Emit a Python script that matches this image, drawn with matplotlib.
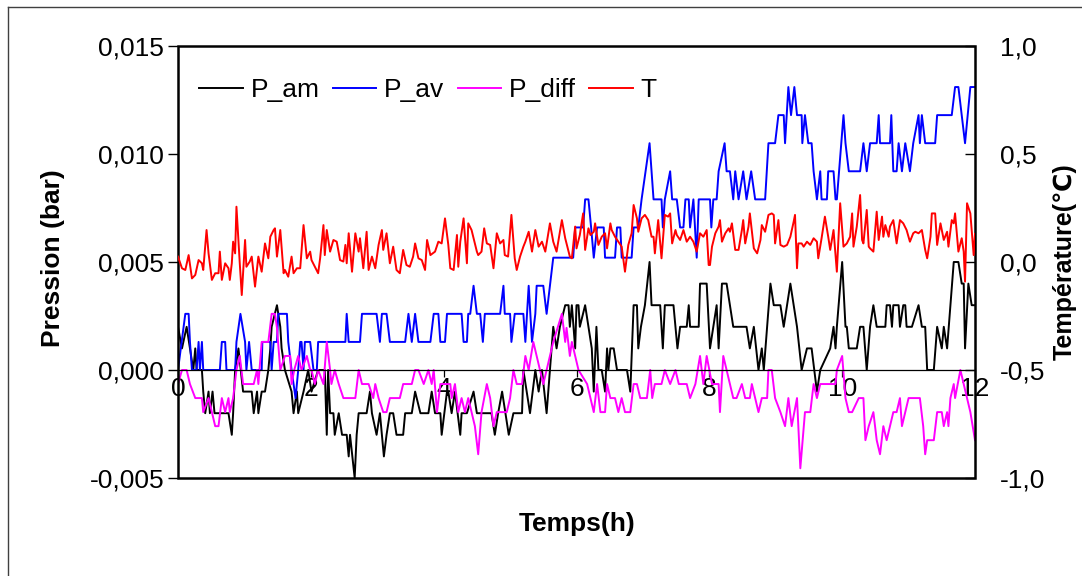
import numpy as np
import matplotlib
matplotlib.use("Agg")
import matplotlib.pyplot as plt
from matplotlib.patches import Rectangle
from matplotlib.lines import Line2D
from matplotlib.ticker import FuncFormatter, MultipleLocator

t_am = [0.0, 0.06, 0.13, 0.18, 0.23, 0.26, 0.28, 0.36, 0.38, 0.41,
        0.46, 0.48, 0.52, 0.55, 0.76, 0.81, 0.83, 0.86, 0.91, 0.98,
        1.11, 1.14, 1.19, 1.21, 1.26, 1.31, 1.36, 1.39, 1.41, 1.49,
        1.54, 1.56, 1.61, 1.71, 1.74, 1.79, 1.81, 1.89, 1.96,
        2.01, 2.11, 2.21, 2.24, 2.26, 2.29, 2.34, 2.36, 2.42, 2.47,
        2.54, 2.57, 2.59, 2.66, 2.69, 2.72, 2.84, 2.89, 2.92, 2.99,
        3.04, 3.10, 3.14, 3.19, 3.24, 3.29, 3.39, 3.42, 3.52, 3.57,
        3.65, 3.77, 3.82, 3.87, 3.95,
        3.97, 4.05, 4.07, 4.12, 4.17, 4.25, 4.27, 4.35, 4.45, 4.50,
        4.57, 4.72, 4.77, 4.82, 4.88, 4.98, 5.05, 5.18, 5.20, 5.30,
        5.38, 5.43, 5.48, 5.55, 5.60, 5.65, 5.70, 5.75, 5.83,
        5.88, 5.90, 5.93, 5.98, 6.00, 6.03, 6.05, 6.13, 6.18, 6.23,
        6.26, 6.30, 6.33, 6.38, 6.43, 6.46, 6.48, 6.51, 6.56, 6.61,
        6.76, 6.81, 6.86, 6.91, 6.93, 6.97, 7.03, 7.10, 7.13, 7.26,
        7.30, 7.33, 7.46, 7.52, 7.56, 7.66, 7.69, 7.71, 7.84, 7.86,
        7.96, 8.01, 8.06, 8.11, 8.14, 8.19, 8.26, 8.31, 8.36, 8.56,
        8.61, 8.67, 8.74, 8.79, 8.82, 8.87, 8.92, 8.97, 9.07, 9.12,
        9.22, 9.32, 9.39, 9.47, 9.54, 9.62, 9.67,
        9.82, 9.87, 9.90, 9.92, 10.00, 10.05, 10.07, 10.10, 10.22, 10.27,
        10.32, 10.37, 10.42, 10.47, 10.52, 10.65, 10.67, 10.72, 10.75, 10.77,
        10.85, 10.87, 10.92, 10.95, 10.97, 11.05, 11.15, 11.20, 11.25, 11.28,
        11.38, 11.43, 11.50, 11.53, 11.58, 11.63, 11.68, 11.75, 11.80, 11.83,
        11.85, 11.90, 11.95, 12.0]
p_am = [0.002, 0.001, 0.002, 0.001, 0.0, 0.001, 0.0, 0.0, -0.001, -0.002,
        -0.001, -0.002, -0.001, -0.002, -0.002, -0.003, -0.002, 0.0, 0.001, -0.001,
        -0.001, -0.002, -0.001, -0.002, -0.001, -0.001, 0.0, 0.001, 0.002, 0.003,
        0.002, 0.001, 0.0, -0.001, -0.002, -0.001, -0.002, -0.001, 0.0,
        -0.001, 0.0, 0.0, -0.003, 0.0, -0.002, -0.002, -0.003, -0.002, -0.003,
        -0.003, -0.004, -0.003, -0.005, -0.003, -0.002, -0.002, -0.001, -0.002, -0.003,
        -0.002, -0.004, -0.003, -0.002, -0.002, -0.003, -0.003, -0.002, -0.002, -0.001,
        -0.002, -0.002, -0.001, -0.002, -0.002,
        -0.003, -0.001, -0.001, -0.002, -0.001, -0.003, -0.002, -0.002, -0.001, -0.002,
        -0.002, -0.002, -0.003, -0.002, -0.001, -0.003, -0.002, -0.002, 0.0, -0.002,
        0.0, -0.001, 0.0, -0.002, 0.0, 0.002, 0.001, 0.002, 0.003,
        0.003, 0.002, 0.003, 0.001, 0.003, 0.003, 0.002, 0.003, 0.002, 0.001,
        -0.001, 0.002, 0.0, 0.0, -0.001, 0.001, 0.0, 0.001, 0.001, 0.0,
        0.0, -0.001, 0.003, 0.003, 0.001, 0.002, 0.003, 0.005, 0.003, 0.003,
        0.001, 0.003, 0.003, 0.001, 0.002, 0.002, 0.003, 0.002, 0.002, 0.004,
        0.004, 0.001, 0.002, 0.003, 0.001, 0.004, 0.004, 0.003, 0.002, 0.002,
        0.001, 0.002, 0.0, 0.001, 0.0, 0.002, 0.004, 0.003, 0.003, 0.002,
        0.004, 0.002, 0.0, 0.001, 0.001, -0.001, 0.0,
        0.001, 0.002, 0.001, 0.002, 0.005, 0.002, 0.002, 0.001, 0.001, 0.002,
        0.002, 0.0, 0.002, 0.003, 0.002, 0.002, 0.003, 0.003, 0.002, 0.003,
        0.003, 0.002, 0.003, 0.003, 0.002, 0.002, 0.003, 0.002, 0.002, 0.0,
        0.0, 0.002, 0.001, 0.002, 0.001, 0.003, 0.005, 0.005, 0.004, 0.004,
        0.001, 0.004, 0.003, 0.003]

# ---- P_av (bar) : courbe bleue
t_av = [0.0, 0.11, 0.16, 0.18, 0.21, 0.28, 0.31, 0.33, 0.36, 0.38,
        0.63, 0.66, 0.71, 0.73, 0.86, 0.88, 0.94, 1.01, 1.03, 1.07,
        1.11, 1.26, 1.27, 1.39, 1.41, 1.44, 1.49, 1.51, 1.64, 1.66,
        1.71, 1.77, 1.81, 1.84, 1.86, 1.89, 1.91, 1.99,
        2.04, 2.09, 2.11, 2.52, 2.54, 2.57, 2.74, 2.77, 2.99, 3.04,
        3.07, 3.14, 3.19, 3.42, 3.47, 3.52, 3.57, 3.62, 3.80, 3.85,
        3.92, 3.95,
        4.02, 4.05, 4.27, 4.30, 4.35, 4.37, 4.40, 4.45, 4.50, 4.55,
        4.59, 4.62, 4.85, 4.90, 4.92, 5.00, 5.02, 5.07, 5.20, 5.23,
        5.28, 5.33, 5.38, 5.40, 5.50, 5.55, 5.60, 5.65, 5.90,
        5.95, 5.98, 6.10, 6.13, 6.18, 6.22, 6.26, 6.31, 6.41, 6.43,
        6.58, 6.61, 6.66, 6.68, 6.83, 6.86, 6.93, 6.98, 7.10, 7.16,
        7.28, 7.30, 7.33, 7.41, 7.44, 7.51, 7.56, 7.61, 7.64, 7.69,
        7.71, 7.76, 7.81, 7.84,
        8.01, 8.03, 8.06, 8.11, 8.14, 8.23, 8.26, 8.31, 8.36, 8.39,
        8.44, 8.51, 8.56, 8.63, 8.69, 8.84, 8.89, 8.99, 9.04, 9.12,
        9.14, 9.19, 9.23, 9.28, 9.32, 9.39, 9.40, 9.44, 9.49, 9.54,
        9.57, 9.62, 9.67, 9.69, 9.77, 9.79,
        9.87, 9.90, 9.92, 10.02, 10.05, 10.10, 10.27, 10.32, 10.37, 10.42,
        10.52, 10.55, 10.57, 10.72, 10.74, 10.77, 10.82, 10.85, 10.90, 10.95,
        11.02, 11.07, 11.15, 11.17, 11.20, 11.25, 11.40, 11.43, 11.65, 11.70,
        11.75, 11.80, 11.85, 11.93, 12.0]
p_av = [0.0, 0.0026, 0.0026, 0.0013, 0.0, 0.0, 0.0013, 0.0, 0.0013, 0.0,
        0.0, 0.0013, 0.0013, 0.0, 0.0, 0.0013, 0.0026, 0.0013, 0.0, 0.0013,
        0.0, 0.0, 0.0013, 0.0013, 0.0, 0.0013, 0.0013, 0.0026, 0.0026, 0.0013,
        0.0, -0.0013, 0.0, 0.0013, 0.0013, 0.0, 0.0013, 0.0013,
        0.0, 0.0, 0.0013, 0.0013, 0.0026, 0.0013, 0.0013, 0.0026, 0.0026, 0.0013,
        0.0026, 0.0026, 0.0013, 0.0013, 0.0026, 0.0013, 0.0026, 0.0013, 0.0013, 0.0026,
        0.0026, 0.0013,
        0.0013, 0.0026, 0.0026, 0.0013, 0.0013, 0.0026, 0.0026, 0.0039, 0.0026, 0.0026,
        0.0013, 0.0026, 0.0026, 0.0039, 0.0026, 0.0026, 0.0013, 0.0026, 0.0026, 0.0013,
        0.0039, 0.0013, 0.0026, 0.0039, 0.0039, 0.0026, 0.0039, 0.0052, 0.0052,
        0.0052, 0.0066, 0.0066, 0.0079, 0.0079, 0.0066, 0.0052, 0.0066, 0.0066, 0.0052,
        0.0052, 0.0066, 0.0066, 0.0052, 0.0052, 0.0066, 0.0066, 0.0079, 0.0105, 0.0079,
        0.0079, 0.0066, 0.0079, 0.0092, 0.0079, 0.0079, 0.0066, 0.0066, 0.0079, 0.0079,
        0.0066, 0.0079, 0.0052, 0.0079,
        0.0079, 0.0066, 0.0079, 0.0079, 0.0092, 0.0105, 0.0092, 0.0092, 0.0079, 0.0092,
        0.0079, 0.0092, 0.0079, 0.0092, 0.0079, 0.0079, 0.0105, 0.0105, 0.0118, 0.0118,
        0.0105, 0.0131, 0.0118, 0.0131, 0.0118, 0.0118, 0.0105, 0.0118, 0.0105, 0.0105,
        0.0092, 0.0079, 0.0092, 0.0079, 0.0079, 0.0092,
        0.0092, 0.0079, 0.0079, 0.0118, 0.0105, 0.0092, 0.0092, 0.0105, 0.0092, 0.0105,
        0.0105, 0.0118, 0.0105, 0.0105, 0.0118, 0.0092, 0.0092, 0.0105, 0.0092, 0.0105,
        0.0092, 0.0105, 0.0118, 0.0105, 0.0118, 0.0105, 0.0105, 0.0118, 0.0118, 0.0131,
        0.0131, 0.0118, 0.0105, 0.0131, 0.0131]

# ---- P_diff (bar) : courbe magenta
t_diff = [0.0, 0.06, 0.13, 0.18, 0.26, 0.36, 0.38, 0.46, 0.51, 0.56,
          0.61, 0.66, 0.71, 0.76, 0.78, 0.83, 0.88, 0.93, 0.98, 1.14,
          1.19, 1.21, 1.26, 1.36, 1.41, 1.46, 1.49, 1.54, 1.61, 1.69,
          1.71, 1.75, 1.81, 1.86, 1.94, 1.99,
          2.01, 2.06, 2.11, 2.19, 2.24, 2.29, 2.31, 2.36, 2.42, 2.49,
          2.67, 2.72, 2.77, 2.87, 2.94, 2.97, 3.02, 3.09, 3.14, 3.19,
          3.34, 3.39, 3.52, 3.57, 3.62, 3.70, 3.77, 3.82, 3.85, 3.90,
          3.95,
          4.00, 4.10, 4.12, 4.17, 4.22, 4.27, 4.32, 4.37, 4.42, 4.47,
          4.52, 4.57, 4.65, 4.70, 4.75, 4.80, 4.95, 5.00, 5.05, 5.10,
          5.18, 5.23, 5.28, 5.35, 5.40, 5.45, 5.50, 5.55, 5.60, 5.65,
          5.78, 5.83, 5.85, 5.90,
          5.93, 5.98, 6.03, 6.16, 6.21, 6.26, 6.31, 6.36, 6.43, 6.46,
          6.51, 6.58, 6.63, 6.68, 6.73, 6.81, 6.86, 6.91, 6.96, 7.06,
          7.11, 7.14, 7.18, 7.28, 7.33, 7.41, 7.49, 7.54, 7.66, 7.71,
          7.79, 7.86,
          7.91, 7.96, 8.04, 8.14, 8.16, 8.21, 8.31, 8.36, 8.41, 8.49,
          8.54, 8.61, 8.64, 8.69, 8.74, 8.79, 8.87, 8.89, 8.94, 8.99,
          9.07, 9.14, 9.19, 9.24, 9.32, 9.37, 9.44, 9.52, 9.57, 9.62,
          9.67,
          9.82, 9.90, 9.92, 10.00, 10.05, 10.10, 10.15, 10.25, 10.32, 10.35,
          10.40, 10.47, 10.52, 10.57, 10.62, 10.67, 10.72, 10.77, 10.82, 10.87,
          10.90, 11.00, 11.17, 11.22, 11.25, 11.28, 11.38, 11.43, 11.50, 11.53,
          11.58, 11.60, 11.63, 11.68, 11.70, 11.78, 11.83, 11.88, 11.93, 12.0]
p_diff = [-0.00065, 0.0, 0.0, -0.00065, -0.0013, -0.0013, -0.00195, -0.0013, -0.00195, -0.0026,
          -0.0026, -0.0013, -0.00195, -0.0013, -0.00195, -0.0013, 0.0, 0.00065, -0.00065, -0.00065,
          0.0, -0.00065, 0.0013, 0.0013, 0.0026, 0.0026, 0.00195, 0.0, 0.00065, 0.00065,
          -0.00065, 0.0, 0.00065, 0.0, 0.00065, 0.0,
          0.0, -0.00065, 0.0, -0.00065, 0.0013, 0.0, -0.00065, 0.0, -0.00065, -0.0013,
          -0.0013, 0.0, -0.00065, -0.00065, -0.0013, -0.00065, -0.0013, -0.00195, -0.00195, -0.0013,
          -0.0013, -0.00065, -0.00065, 0.0, 0.0, -0.00065, 0.0, -0.00065, 0.0, -0.00195,
          -0.00065,
          -0.00065, -0.00065, -0.0013, -0.00065, -0.00195, -0.0013, -0.00195, -0.0013, -0.00195, -0.0026,
          -0.0039, -0.00195, -0.00065, -0.0013, -0.0026, -0.00195, -0.00195, -0.0013, 0.0, -0.00065,
          -0.00065, 0.00065, 0.0, 0.0013, 0.00065, 0.0, -0.00065, 0.0, 0.00065, 0.0013,
          0.0026, 0.0013, 0.00195, 0.00065,
          0.0013, 0.00065, 0.0, -0.00065, -0.0013, -0.00195, -0.00065, -0.00195, -0.00195, -0.00065,
          -0.0013, -0.0013, -0.00195, -0.0013, -0.00195, -0.00195, -0.00065, -0.00065, -0.0013, -0.0013,
          0.0, -0.0013, -0.00065, -0.00065, 0.0, -0.00065, 0.0, -0.00065, -0.00065, -0.0013,
          -0.00065, 0.00065,
          -0.00065, 0.00065, -0.00065, -0.00065, -0.00195, 0.00065, -0.00065, -0.0013, -0.0013, -0.00065,
          -0.0013, -0.0013, -0.00065, -0.0013, -0.00195, -0.0013, -0.0013, 0.0, 0.0, -0.0013,
          -0.00195, -0.0026, -0.0013, -0.0026, -0.0013, -0.00455, -0.00195, -0.00195, -0.00065, -0.0013,
          -0.00065,
          -0.00065, -0.00065, 0.0, 0.00065, -0.0013, -0.00195, -0.00195, -0.0013, -0.0013, -0.00325,
          -0.0026, -0.00195, -0.00325, -0.0039, -0.0026, -0.00325, -0.0026, -0.00195, -0.00195, -0.0013,
          -0.0026, -0.0013, -0.0013, -0.0026, -0.0039, -0.00325, -0.00325, -0.00195, -0.00195, -0.0026,
          -0.00195, -0.0026, -0.0013, -0.00065, -0.0013, 0.0, -0.00065, -0.0013, -0.00195, -0.00325]

# ---- T (°C) : courbe rouge
t_T = [0.0, 0.06, 0.11, 0.16, 0.21, 0.26, 0.31, 0.36, 0.38, 0.43,
       0.46, 0.51, 0.56, 0.61, 0.63, 0.66, 0.71, 0.76, 0.78, 0.81,
       0.83, 0.86, 0.88, 0.93, 0.96, 1.01, 1.03, 1.08, 1.11, 1.16,
       1.21, 1.26, 1.31, 1.36, 1.39, 1.44, 1.46, 1.49, 1.54, 1.59,
       1.61, 1.66, 1.71, 1.74, 1.79, 1.84, 1.89, 1.94, 1.99,
       2.01, 2.06, 2.11, 2.14, 2.19, 2.21, 2.24, 2.29, 2.34, 2.39,
       2.44, 2.49, 2.52, 2.54, 2.57, 2.62, 2.67, 2.72, 2.74, 2.79,
       2.84, 2.87, 2.92, 2.97, 3.02, 3.07, 3.09, 3.14, 3.19, 3.24,
       3.29, 3.34, 3.39, 3.44, 3.49, 3.54, 3.57, 3.62, 3.67, 3.72,
       3.75, 3.80, 3.87, 3.92,
       3.97, 4.02, 4.07, 4.10, 4.15, 4.20, 4.22, 4.25, 4.30, 4.35,
       4.37, 4.42, 4.47, 4.50, 4.52, 4.57, 4.61, 4.65, 4.70, 4.75,
       4.80, 4.85, 4.90, 4.92, 4.97, 5.02, 5.07, 5.10, 5.15, 5.20,
       5.23, 5.28, 5.33, 5.38, 5.43, 5.48, 5.53, 5.60, 5.65, 5.70,
       5.78, 5.83, 5.90,
       5.93, 5.98, 6.00, 6.05, 6.10, 6.13, 6.18, 6.21, 6.26, 6.28,
       6.33, 6.38, 6.43, 6.46, 6.51, 6.53, 6.58, 6.63, 6.68, 6.73,
       6.78, 6.83, 6.86, 6.91, 6.93, 6.98, 7.03, 7.08, 7.13, 7.16,
       7.18, 7.23, 7.28, 7.33, 7.38, 7.41, 7.44, 7.49, 7.51, 7.56,
       7.61, 7.66, 7.71, 7.76, 7.81, 7.86,
       7.91, 7.96, 7.99, 8.01, 8.04, 8.09, 8.14, 8.16, 8.19, 8.24,
       8.29, 8.31, 8.34, 8.39, 8.44, 8.49, 8.51, 8.54, 8.59, 8.61,
       8.67, 8.72, 8.77, 8.79, 8.84, 8.89, 8.94, 8.97, 8.99, 9.04,
       9.07, 9.12, 9.17, 9.22, 9.27, 9.29, 9.32, 9.34, 9.39, 9.42,
       9.47, 9.52, 9.57, 9.62, 9.64, 9.69, 9.74, 9.77, 9.79,
       9.82, 9.87, 9.92, 9.97, 10.02, 10.07, 10.12, 10.15, 10.17, 10.22,
       10.27, 10.30, 10.32, 10.37, 10.40, 10.42, 10.47, 10.52, 10.55, 10.60,
       10.62, 10.65, 10.70, 10.72, 10.77, 10.82, 10.87, 10.92, 10.97, 11.02,
       11.07, 11.10, 11.15, 11.20, 11.25, 11.28, 11.33, 11.35, 11.40, 11.43,
       11.48, 11.53, 11.58, 11.60, 11.65, 11.68, 11.70, 11.75, 11.80, 11.83,
       11.85, 11.88, 11.93, 11.98, 12.0]
temp = [0.025, -0.029, -0.037, 0.032, -0.076, -0.060, 0.009, -0.006, -0.037, 0.148,
        0.040, -0.083, -0.052, -0.052, 0.048, -0.083, -0.006, -0.029, -0.083, -0.006,
        0.094, 0.040, 0.256, -0.006, -0.153, 0.102, -0.022, 0.002, 0.025, -0.114,
        0.025, -0.045, 0.086, 0.017, 0.117, 0.148, 0.156, 0.025, 0.148, -0.052,
        -0.037, -0.068, 0.025, -0.052, -0.029, -0.029, 0.171, 0.017, 0.048,
        0.009, -0.022, -0.052, 0.017, 0.171, 0.032, 0.148, 0.048, 0.102, 0.094,
        0.009, 0.002, 0.079, -0.006, 0.133, -0.045, 0.133, 0.048, 0.110, -0.029,
        0.140, -0.037, 0.025, -0.029, 0.079, 0.148, 0.056, 0.133, -0.006, 0.071,
        -0.037, -0.052, 0.056, -0.014, -0.022, 0.025, 0.086, 0.017, 0.009, -0.037,
        0.102, 0.032, 0.048, 0.094,
        0.086, 0.202, 0.079, -0.029, -0.037, 0.125, -0.022, 0.094, 0.202, -0.006,
        0.179, 0.148, 0.086, 0.048, 0.032, 0.048, 0.156, 0.086, 0.079, -0.029,
        0.133, 0.086, 0.102, 0.032, 0.025, 0.218, 0.017, -0.037, 0.025, 0.071,
        0.094, 0.140, 0.048, 0.148, 0.071, 0.094, 0.048, 0.179, 0.094, 0.048,
        0.194, 0.110, 0.025,
        0.017, 0.164, 0.063, 0.125, 0.225, 0.056, 0.156, 0.125, 0.140, 0.179,
        0.079, 0.117, 0.133, 0.063, 0.179, 0.148, 0.117, 0.094, 0.071, -0.045,
        0.079, 0.133, 0.264, 0.202, 0.140, 0.202, 0.218, 0.194, 0.117, 0.117,
        0.040, 0.194, 0.017, 0.218, 0.210, 0.225, 0.086, 0.148, 0.125, 0.102,
        0.148, 0.094, 0.117, 0.094, 0.048, 0.133,
        0.117, 0.148, -0.014, -0.014, 0.071, 0.133, 0.164, 0.194, 0.094, 0.133,
        0.156, 0.140, 0.179, 0.056, 0.056, 0.148, 0.194, 0.086, 0.164, 0.225,
        0.063, 0.040, 0.102, 0.171, 0.140, 0.218, 0.225, 0.218, 0.086, 0.194,
        0.079, 0.071, 0.079, 0.117, 0.187, 0.218, -0.029, 0.086, 0.086, 0.071,
        0.094, 0.079, 0.110, 0.094, 0.017, 0.110, 0.210, 0.156, 0.117,
        0.056, 0.148, -0.045, 0.272, 0.071, 0.086, 0.117, 0.225, 0.071, 0.164,
        0.310, 0.102, 0.086, 0.241, 0.071, 0.063, 0.048, 0.233, 0.102, 0.210,
        0.117, 0.171, 0.117, 0.164, 0.194, 0.086, 0.194, 0.179, 0.148, 0.094,
        0.133, 0.140, 0.133, 0.148, 0.056, 0.017, 0.117, 0.225, 0.225, 0.079,
        0.179, 0.102, 0.140, 0.071, 0.194, 0.179, 0.225, 0.048, 0.110, 0.048,
        -0.091, 0.272, 0.225, 0.032, 0.130]

plt.rcParams["font.family"] = ["Liberation Sans", "DejaVu Sans"]
taille = 19

fig = plt.figure(figsize=(10.82, 5.76), dpi=100)
ax = fig.add_axes([178 / 1082, 98 / 576, 797 / 1082, 432 / 576])
ax2 = ax.twinx()

l1, = ax.plot(t_am, p_am, color="black", lw=1.4, label="P_am")
l2, = ax.plot(t_av, p_av, color="#0000ff", lw=1.4, label="P_av")
l3, = ax.plot(t_diff, p_diff, color="#ff00ff", lw=1.4, label="P_diff")
l4, = ax2.plot(t_T, temp, color="#ff0000", lw=1.4, label="T")

ax.set_xlim(0, 12)
ax.set_ylim(-0.005, 0.015)
ax2.set_ylim(-1.0, 1.0)

virgule3 = FuncFormatter(lambda v, p: f"{v:.3f}".replace(".", ","))
virgule1 = FuncFormatter(lambda v, p: f"{v:.1f}".replace(".", ","))
ax.yaxis.set_major_locator(MultipleLocator(0.005))
ax.yaxis.set_major_formatter(virgule3)
ax2.yaxis.set_major_locator(MultipleLocator(0.5))
ax2.yaxis.set_major_formatter(virgule1)
ax.xaxis.set_major_locator(MultipleLocator(2))

# axe des x à y = 0 comme dans Excel
for s in ["top", "right", "left"]:
    ax.spines[s].set_visible(False)
for s in ax2.spines:
    ax2.spines[s].set_visible(False)
ax.spines["bottom"].set_position(("data", 0))
ax.spines["bottom"].set_linewidth(0.9)
ax.add_patch(Rectangle((0, 0), 1, 1, transform=ax.transAxes, fill=False,
                       edgecolor="black", lw=1.8, clip_on=False, zorder=5))

ax.tick_params(axis="x", direction="out", length=5, width=0.9, pad=0, labelsize=taille)
ax.tick_params(axis="y", direction="out", length=7, width=1, pad=3, labelsize=taille)
ax2.tick_params(axis="y", direction="in", length=7, width=1, pad=18, labelsize=taille)

ax.set_ylabel("Pression (bar)", fontsize=taille, fontweight="bold")
ax.yaxis.set_label_coords(-0.142, 0.51)
ax2.set_ylabel("Température(℃)", fontsize=18, fontweight="bold")
ax2.yaxis.set_label_coords(1.098, 0.5)
fig.text(577 / 1082, 1 - 524 / 576, "Temps(h)", fontsize=taille, fontweight="bold",
         ha="center", va="center")

ax2.legend(handles=[l1, l2, l3, l4], loc="center left", ncol=4, frameon=False,
           fontsize=taille, handlelength=1.65, handletextpad=0.3, columnspacing=0.5,
           borderpad=0, bbox_to_anchor=(8 / 797, 1 - 44 / 432))

# bordure de la zone graphique (coupée à droite et en bas)
fig.add_artist(Line2D([8 / 1082, 8 / 1082], [0, 1 - 7 / 576], transform=fig.transFigure,
                      color="#404040", lw=1))
fig.add_artist(Line2D([8 / 1082, 1], [1 - 7 / 576, 1 - 7 / 576], transform=fig.transFigure,
                      color="#404040", lw=1))

fig.savefig("out.png", dpi=100)
